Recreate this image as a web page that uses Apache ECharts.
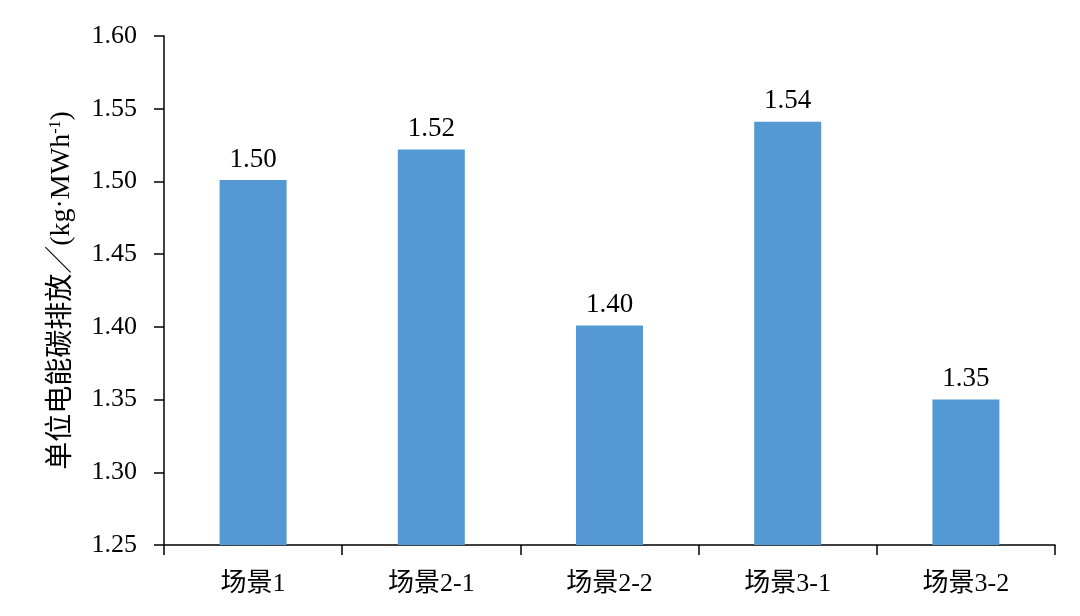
<!DOCTYPE html>
<html>
<head>
<meta charset="utf-8">
<script src="https://cdn.jsdelivr.net/npm/echarts@6/dist/echarts.min.js"></script>
<style>html,body{margin:0;padding:0;background:#fff}#c{width:1080px;height:616px}</style>
</head>
<body>
<div id="c"></div>
<script>
const categories = ['场景1', '场景2-1', '场景2-2', '场景3-1', '场景3-2'];
const values = [1.501, 1.522, 1.401, 1.541, 1.350];
const yTicks = { min: 1.25, max: 1.60, interval: 0.05 };

const FONT = '"Liberation Serif", "Times New Roman", "Noto Sans CJK SC", serif';
const chart = echarts.init(document.getElementById('c'));
chart.setOption({
  backgroundColor: '#fff',
  animation: false,
  grid: { left: 164, right: 25, top: 36, bottom: 71 },
  xAxis: {
    type: 'category',
    data: categories,
    boundaryGap: true,
    axisLine: { lineStyle: { color: '#000', width: 1.5 } },
    axisTick: { show: true, alignWithLabel: false, length: 10, lineStyle: { color: '#000', width: 1.5 } },
    axisLabel: { color: '#000', fontSize: 26, fontFamily: FONT, margin: 26 }
  },
  yAxis: {
    type: 'value',
    min: yTicks.min, max: yTicks.max, interval: yTicks.interval,
    splitLine: { show: false },
    axisLine: { show: true, lineStyle: { color: '#000', width: 1.5 } },
    axisTick: { show: true, length: 10, lineStyle: { color: '#000', width: 1.5 } },
    axisLabel: { color: '#000', fontSize: 26, fontFamily: FONT, margin: 27,
      formatter: v => v.toFixed(2) },
    name: '{t|单位电能碳排放／(kg·MWh}{s|-1}{t|)}',
    nameLocation: 'middle',
    nameGap: 88,
    nameRotate: 90,
    nameTextStyle: {
      rich: {
        t: { fontSize: 28, fontFamily: FONT, color: '#000' },
        s: { fontSize: 16, fontFamily: FONT, color: '#000', verticalAlign: 'top', padding: [0, 0, 12, 0] }
      }
    }
  },
  series: [{
    type: 'bar',
    data: values,
    barWidth: 67,
    itemStyle: { color: '#5599d4' },
    label: { show: true, position: 'top', distance: 7, color: '#000', fontSize: 27, fontFamily: FONT,
      formatter: p => p.value.toFixed(2) }
  }]
});
</script>
</body>
</html>
